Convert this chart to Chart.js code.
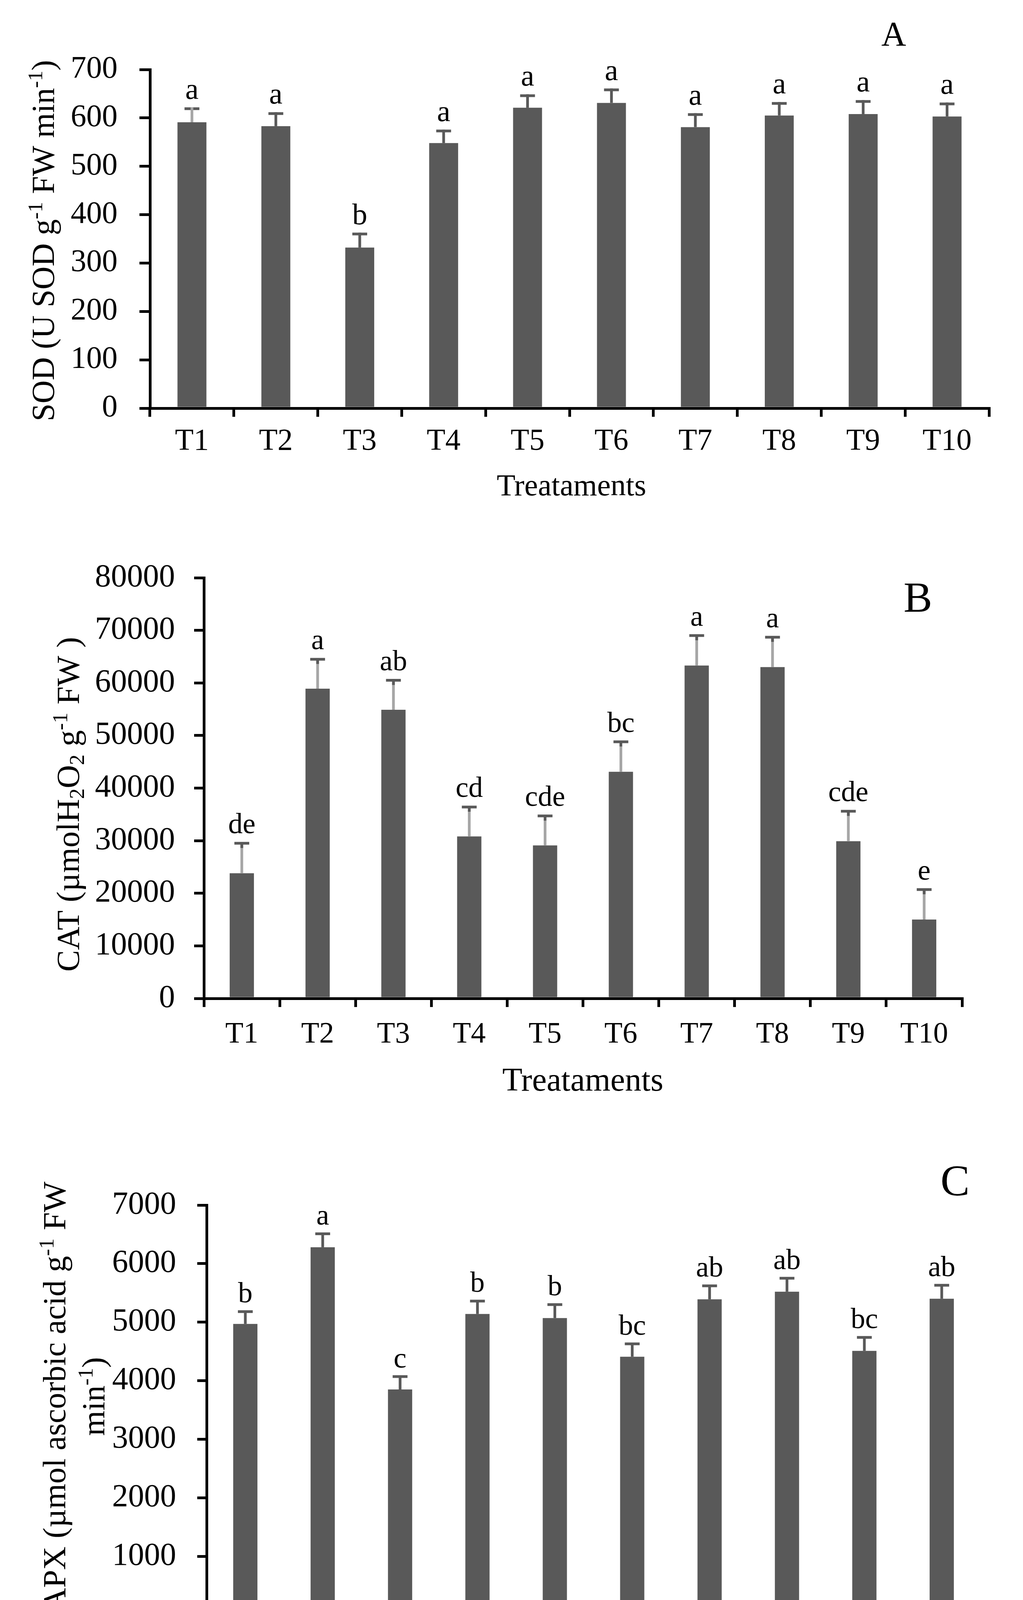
<!DOCTYPE html>
<html>
<head>
<meta charset="utf-8">
<script src="https://cdn.jsdelivr.net/npm/chart.js@4.4.1/dist/chart.umd.min.js"></script>
<style>
  html, body { margin: 0; padding: 0; background: #fff; }
  #wrap { position: relative; width: 2619px; height: 4444px; background: #fff; }
  canvas { position: absolute; left: 0; }
</style>
</head>
<body>
<div id="wrap">
  <canvas id="sod" width="2619" height="1330" style="top:0px"></canvas>
  <canvas id="cat" width="2619" height="1540" style="top:1330px"></canvas>
  <canvas id="apx" width="2619" height="1574" style="top:2870px"></canvas>
</div>
<script>
// data
const treatments = ['T1', 'T2', 'T3', 'T4', 'T5', 'T6', 'T7', 'T8', 'T9', 'T10'];

const sodValues = [591, 583, 332, 548, 621, 631, 581, 605, 608, 603];
const sodErrors = [28, 26, 28, 25, 25, 27, 26, 25, 26, 26];
const sodLetters = ['a', 'a', 'b', 'a', 'a', 'a', 'a', 'a', 'a', 'a'];
const sodTicks = [0, 100, 200, 300, 400, 500, 600, 700];

const catValues = [23800, 58900, 54900, 30800, 29100, 43100, 63300, 63000, 29900, 15000];
const catErrors = [5700, 5600, 5600, 5600, 5600, 5700, 5700, 5700, 5700, 5700];
const catLetters = ['de', 'a', 'ab', 'cd', 'cde', 'bc', 'a', 'a', 'cde', 'e'];
const catTicks = [0, 10000, 20000, 30000, 40000, 50000, 60000, 70000, 80000];

const apxValues = [4970, 6280, 3850, 5140, 5070, 4410, 5390, 5520, 4510, 5400];
const apxErrors = [210, 230, 220, 220, 230, 220, 230, 230, 230, 230];
const apxLetters = ['b', 'a', 'c', 'b', 'b', 'bc', 'ab', 'ab', 'bc', 'ab'];
const apxTicks = [0, 1000, 2000, 3000, 4000, 5000, 6000, 7000];

const SERIF = "'Liberation Serif', 'Times New Roman', serif";
const BAR = '#595959';
const LIGHT = '#a6a6a6';

Chart.defaults.font.family = SERIF;
Chart.defaults.color = '#000';

function drawRich(ctx, segs, size, x, y) {
  segs.forEach(s => {
    const small = s.sup || s.sub;
    ctx.font = (small ? size * 0.65 : size) + 'px ' + SERIF;
    const dy = s.sup ? -size * 0.36 : (s.sub ? size * 0.16 : 0);
    ctx.fillText(s.t, x, y + dy);
    x += ctx.measureText(s.t).width;
  });
}

function richWidth(ctx, segs, size) {
  let w = 0;
  segs.forEach(s => {
    ctx.font = ((s.sup || s.sub) ? size * 0.65 : size) + 'px ' + SERIF;
    w += ctx.measureText(s.t).width;
  });
  return w;
}

function drawExtras(chart, p) {
  const ctx = chart.ctx;
  const y = chart.scales.y;
  const bars = chart.getDatasetMeta(0).data;
  ctx.save();
  ctx.lineCap = 'butt';
  bars.forEach((bar, i) => {
    const xc = bar.x;
    const top = y.getPixelForValue(p.values[i]);
    const capY = y.getPixelForValue(p.values[i] + p.errors[i]);
    const stem = () => {
      ctx.strokeStyle = p.stemColors[i];
      ctx.lineWidth = 7;
      ctx.beginPath();
      ctx.moveTo(xc, top);
      ctx.lineTo(xc, capY - (p.stemOnTop ? 3.5 : 0));
      ctx.stroke();
    };
    if (!p.stemOnTop) stem();
    ctx.strokeStyle = BAR;
    ctx.lineWidth = 7;
    ctx.beginPath();
    ctx.moveTo(xc - 19, capY);
    ctx.lineTo(xc + 19, capY);
    ctx.stroke();
    if (p.stub) {
      ctx.beginPath();
      ctx.moveTo(xc, capY);
      ctx.lineTo(xc, capY + p.stub);
      ctx.stroke();
    }
    if (p.stemOnTop) stem();

    ctx.fillStyle = '#000';
    ctx.font = p.letterFont + 'px ' + SERIF;
    ctx.textAlign = 'center';
    ctx.textBaseline = 'alphabetic';
    ctx.fillText(p.letters[i], xc, capY - 3.5 - p.letterGap);
  });

  // axis titles and panel letter
  ctx.fillStyle = '#000';
  ctx.textAlign = 'left';
  ctx.textBaseline = 'alphabetic';
  p.yTitle.forEach(line => {
    const w = richWidth(ctx, line.segs, p.yTitleFont);
    ctx.save();
    ctx.translate(line.x, p.yTitleCenter);
    ctx.rotate(-Math.PI / 2);
    drawRich(ctx, line.segs, p.yTitleFont, -w / 2, 0);
    ctx.restore();
  });
  ctx.textAlign = 'center';
  ctx.font = p.xTitleFont + 'px ' + SERIF;
  ctx.fillText('Treataments', p.xTitlePos[0], p.xTitlePos[1]);
  ctx.font = p.panelFont + 'px ' + SERIF;
  ctx.fillText(p.panel, p.panelPos[0], p.panelPos[1]);
  ctx.restore();
}

function makeChart(id, p) {
  const canvas = document.getElementById(id);
  const H = canvas.height;
  return new Chart(canvas, {
    type: 'bar',
    data: {
      labels: treatments,
      datasets: [{
        data: p.values,
        backgroundColor: BAR,
        borderWidth: 0,
        barPercentage: p.barPct,
        categoryPercentage: 1
      }]
    },
    options: {
      responsive: false,
      devicePixelRatio: 1,
      animation: false,
      layout: { padding: { left: 0, right: 2619 - p.right, top: p.top, bottom: 0 } },
      plugins: { legend: { display: false }, tooltip: { enabled: false } },
      scales: {
        x: {
          grid: { display: true, drawOnChartArea: false, drawTicks: true, tickLength: 22, lineWidth: 7, color: '#000', offset: true },
          border: { display: true, width: 7, color: '#000' },
          ticks: { color: '#000', autoSkip: false, maxRotation: 0, padding: p.xPad,
                   font: { family: SERIF, size: p.xFont, lineHeight: 1 } },
          afterFit: s => { s.height = H - p.bottom; }
        },
        y: {
          min: 0,
          max: p.ticks[p.ticks.length - 1],
          afterBuildTicks: s => { s.ticks = p.ticks.map(v => ({ value: v })); },
          grid: { display: true, drawOnChartArea: false, drawTicks: true, tickLength: p.yTl, lineWidth: 7, color: '#000' },
          border: { display: true, width: 7, color: '#000' },
          ticks: { color: '#000', padding: p.yPad, callback: v => String(v),
                   font: { family: SERIF, size: p.yFont, lineHeight: 1 } },
          afterFit: s => { s.width = p.left; }
        }
      }
    },
    plugins: [{ id: 'extras' + id, afterDatasetsDraw: chart => drawExtras(chart, p) }]
  });
}

const darkStems = treatments.map(() => BAR);

makeChart('sod', {
  values: sodValues, errors: sodErrors, letters: sodLetters, ticks: sodTicks,
  left: 384, right: 2532, top: 178, bottom: 1045,
  barPct: 0.345, xFont: 78, xPad: 25, yFont: 80, yPad: 56, yTl: 27,
  letterFont: 77, letterGap: 22,
  stemColors: [LIGHT].concat(darkStems.slice(1)), stemOnTop: true, stub: 0,
  yTitle: [{ x: 138, segs: [{ t: 'SOD (U SOD g' }, { t: '-1', sup: true }, { t: ' FW min' }, { t: '-1', sup: true }, { t: ')' }] }],
  yTitleFont: 82, yTitleCenter: 616,
  xTitleFont: 78, xTitlePos: [1463, 1268],
  panel: 'A', panelFont: 88, panelPos: [2288, 116]
});

makeChart('cat', {
  values: catValues, errors: catErrors, letters: catLetters, ticks: catTicks,
  left: 522, right: 2463, top: 149, bottom: 1226,
  barPct: 0.32, xFont: 76, xPad: 33, yFont: 82, yPad: 49, yTl: 25,
  letterFont: 74, letterGap: 22,
  stemColors: treatments.map(() => LIGHT), stemOnTop: false, stub: 12,
  yTitle: [{ x: 202, segs: [{ t: 'CAT (µmolH' }, { t: '2', sub: true }, { t: 'O' }, { t: '2', sub: true }, { t: ' g' }, { t: '-1', sup: true }, { t: ' FW )' }] }],
  yTitleFont: 83, yTitleCenter: 729,
  xTitleFont: 84, xTitlePos: [1492, 1462],
  panel: 'B', panelFont: 110, panelPos: [2350, 236]
});

makeChart('apx', {
  values: apxValues, errors: apxErrors, letters: apxLetters, ticks: apxTicks,
  left: 529, right: 2510, top: 215, bottom: 1264,
  barPct: 0.313, xFont: 78, xPad: 28, yFont: 82, yPad: 54, yTl: 24,
  letterFont: 74, letterGap: 20,
  stemColors: darkStems, stemOnTop: false, stub: 0,
  yTitle: [
    { x: 167, segs: [{ t: 'APX (µmol ascorbic acid g' }, { t: '-1', sup: true }, { t: ' FW' }] },
    { x: 267, segs: [{ t: 'min' }, { t: '-1', sup: true }, { t: ')' }] }
  ],
  yTitleFont: 83, yTitleCenter: 705,
  xTitleFont: 82, xTitlePos: [1520, 1495],
  panel: 'C', panelFont: 112, panelPos: [2445, 190]
});
</script>
</body>
</html>
